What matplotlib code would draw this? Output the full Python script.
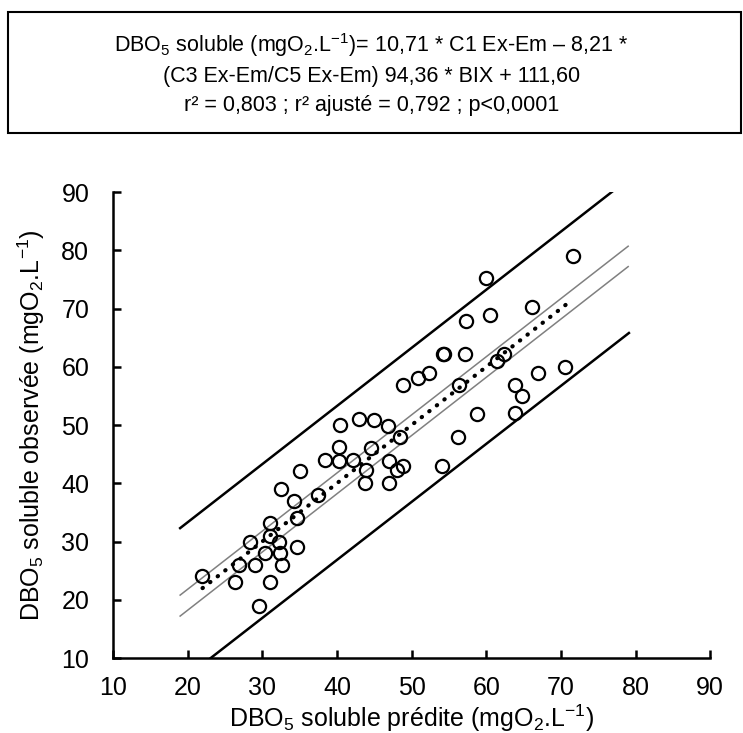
import matplotlib
matplotlib.use("Agg")
import matplotlib.pyplot as plt
from matplotlib.patches import Rectangle

plt.rcParams['font.family'] = ['Liberation Sans', 'DejaVu Sans']
plt.rcParams['mathtext.fontset'] = 'custom'
plt.rcParams['mathtext.rm'] = 'Liberation Sans'
plt.rcParams['mathtext.it'] = 'Liberation Sans'
plt.rcParams['mathtext.default'] = 'regular'

# predicted vs observed soluble BOD5
predite = [21.9, 26.3, 26.9, 28.4, 29.0, 29.5, 30.3, 31.0, 31.0, 31.1,
           32.2, 32.4, 32.7, 32.5, 34.6, 34.2, 34.6, 35.1, 37.5, 38.4,
           40.4, 40.3, 40.3, 42.1, 42.9, 44.9, 46.8, 44.5, 43.9, 43.7,
           47.0, 48.0, 48.9, 47.0, 48.4, 48.8, 50.8, 52.3, 54.2, 54.4,
           57.1, 57.3, 60.5, 56.3, 58.8, 56.2, 54.1, 61.4, 62.4, 63.9,
           63.9, 64.8, 59.9, 66.1, 71.6, 66.9, 70.5]
observee = [24.0, 23.1, 26.0, 29.9, 26.0, 19.0, 28.0, 33.1, 31.0, 23.1,
            29.9, 28.0, 25.9, 39.0, 29.0, 36.9, 34.1, 42.1, 38.0, 44.0,
            50.0, 46.2, 43.9, 44.0, 51.1, 50.9, 49.9, 46.0, 42.2, 40.0,
            43.9, 42.2, 43.0, 40.0, 48.0, 56.8, 58.1, 59.0, 62.2, 62.2,
            62.2, 67.9, 68.9, 56.9, 51.9, 48.0, 43.0, 61.0, 62.2, 56.9,
            52.0, 54.9, 75.2, 70.2, 79.1, 59.0, 59.9]

# regression line and bands
reg_x = [22.0, 71.0]
reg_y = [22.0, 71.0]
ci_x = [19.0, 79.0]
ci_hi = [20.8, 80.7]
ci_lo = [17.2, 77.2]
pi_hi_x = [19.0, 79.0]
pi_hi_y = [32.3, 92.2]
pi_lo_x = [23.1, 79.1]
pi_lo_y = [10.0, 65.8]

ticks = [10, 20, 30, 40, 50, 60, 70, 80, 90]

fig = plt.figure(figsize=(7.43, 7.33), dpi=100)

# equation box
fig.patches.append(Rectangle((0.011, 0.8186), 0.9865, 0.165, transform=fig.transFigure,
                             fill=False, edgecolor='black', linewidth=1.5))
eq = ("DBO$_5$ soluble (mgO$_2$.L$^{-1}$)= 10,71 * C1 Ex-Em – 8,21 *\n"
      "(C3 Ex-Em/C5 Ex-Em) 94,36 * BIX + 111,60\n"
      "r² = 0,803 ; r² ajusté = 0,792 ; p<0,0001")
fig.text(0.5, 0.9, eq, ha='center', va='center', fontsize=15.5, linespacing=1.48)

ax = fig.add_axes([0.152, 0.1023, 0.804, 0.6357])
ax.plot(pi_hi_x, pi_hi_y, color='black', linewidth=1.8, zorder=2)
ax.plot(pi_lo_x, pi_lo_y, color='black', linewidth=1.8, zorder=2)
ax.plot(ci_x, ci_hi, color='#808080', linewidth=1.1, zorder=2)
ax.plot(ci_x, ci_lo, color='#808080', linewidth=1.1, zorder=2)
ax.plot(reg_x, reg_y, color='black', linewidth=3, linestyle=(0, (0.1, 2.2)),
        dash_capstyle='round', zorder=3)
ax.plot(predite, observee, 'o', markersize=9.5, markerfacecolor='none',
        markeredgecolor='black', markeredgewidth=1.6, zorder=4, clip_on=False)

ax.set_xlim(10, 90)
ax.set_ylim(10, 90)
ax.set_xticks(ticks)
ax.set_yticks(ticks)
ax.spines['top'].set_visible(False)
ax.spines['right'].set_visible(False)
ax.spines['left'].set_linewidth(1.8)
ax.spines['bottom'].set_linewidth(1.8)
ax.tick_params(direction='in', length=6, width=1.8, labelsize=18)
ax.tick_params(axis='x', pad=13)
ax.tick_params(axis='y', pad=17)
ax.set_xlabel("DBO$_5$ soluble prédite (mgO$_2$.L$^{-1}$)", fontsize=18, labelpad=2)
ax.set_ylabel("DBO$_5$ soluble observée (mgO$_2$.L$^{-1}$)", fontsize=18, labelpad=10)

fig.savefig("out.png", dpi=100)
